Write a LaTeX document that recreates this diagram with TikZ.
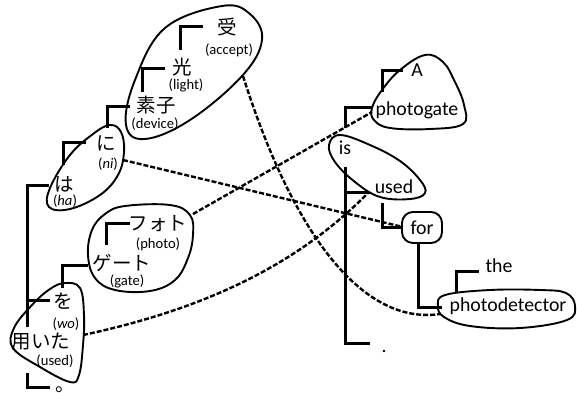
\documentclass[tikz,border=0pt]{standalone}
\usepackage{fontspec}
\setmainfont{Carlito}
\newfontfamily\jpfont{Noto Sans CJK JP}
\begin{document}
\begin{tikzpicture}[x=1pt,y=-1pt,
  en/.style={font=\fontsize{19.8}{21}\selectfont, inner sep=0pt},
  jp/.style={font=\fontsize{19.5}{21}\jpfont, inner sep=0pt},
  gl/.style={font=\fontsize{14.6}{16}\selectfont, inner sep=0pt},
  brk/.style={line width=3pt},
  blob/.style={line width=1.9pt},
  dsh/.style={line width=2.4pt, dash pattern=on 5pt off 2pt}]
\useasboundingbox (0,0) rectangle (577,392);

% ---------- blobs ----------
\draw[blob] plot[smooth cycle, tension=0.65] coordinates {(222,6) (165,28) (135,80) (126,125) (145,139) (190,120) (242,76) (262,40) (250,14)};
\draw[blob] plot[smooth cycle, tension=0.65] coordinates {(110,125) (121,132) (124,152) (118,175) (100,195) (70,209) (49,207) (50,188) (70,155) (93,134)};
\draw[blob] plot[smooth cycle, tension=0.65] coordinates {(125,206) (170,205) (190,215) (193,235) (188,258) (175,280) (150,291) (115,290) (95,278) (88,255) (92,230) (105,214)};
\draw[blob] plot[smooth cycle, tension=0.65] coordinates {(65,283) (80,288) (84,315) (83,345) (79,375) (70,382) (40,367) (13,348) (14,328) (32,305) (50,289)};
\draw[blob] plot[smooth cycle, tension=0.65] coordinates {(425,55) (443,62) (455,82) (464,105) (463,124) (430,129) (390,128) (374,120) (372,108) (382,90) (400,70)};
\draw[blob] plot[smooth cycle, tension=0.65] coordinates {(340,135) (370,145) (400,161) (420,180) (425,193) (410,199) (380,197) (355,182) (335,162) (329,145)};
\draw[blob] plot[smooth cycle, tension=0.65] coordinates {(445,295) (490,290) (540,290) (566,293) (575,306) (567,320) (520,328) (470,326) (444,317) (438,306)};

% ---------- connector end points on blobs ----------
\coordinate (b1r) at (243,76);
\coordinate (b8l) at (440,314);
\coordinate (b2r) at (123,160);
\coordinate (forl) at (403,227);
\coordinate (b3r) at (193,214);
\coordinate (b5l) at (372,112);
\coordinate (b4r) at (83,335);
\coordinate (b6l) at (368,193);

% ---------- Japanese words ----------
\node[jp] (ju) at (227,27) {受};
\node[gl] (jug) at (229,50) {(accept)};
\node[jp] (hikari) at (182,67) {光};
\node[gl] (hikarig) at (186,85) {(light)};
\node[jp] (soshi) at (156,105) {素子};
\node[gl] (soshig) at (155,124) {(device)};
\node[jp] (ni) at (106,143) {に};
\node[gl] (nig) at (108,164) {(\textit{ni})};
\node[jp] (ha) at (64,184) {は};
\node[gl] (hag) at (65,201) {(\textit{ha})};
\node[jp] (foto) at (158,224) {フォト};
\node[gl] (fotog) at (158,244) {(photo)};
\node[jp] (geto) at (122,263) {ゲート};
\node[gl] (getog) at (127,281) {(gate)};
\node[jp] (wo) at (63,301) {を};
\node[gl] (wog) at (66,324) {(\textit{wo})};
\node[jp] (mochiita) at (41,342) {用いた};
\node[gl] (mochiitag) at (55,361) {(used)};
\node[jp, anchor=base west] (maru) at (55,391) {。};

% ---------- English words ----------
\node[en] (a) at (417,70) {A};
\node[en] (photogate) at (417,110) {photogate};
\node[en] (is) at (345,148) {is};
\node[en] (used) at (394,187) {used};
\node[en, draw, line width=1.9pt, rounded corners=11pt, minimum width=40pt, minimum height=31pt] (for) at (422,227.5) {for};
\node[en] (the) at (499,266) {the};
\node[en] (photodetector) at (508,306) {photodetector};
\node[en, anchor=base] (period) at (384,352) {.};

% ---------- tree brackets (Japanese) ----------
\draw[brk] (203,26) -| (180,50);
\draw[brk] (165,68) -| (142,92);
\draw[brk] (130,106) -| (107,128);
\draw[brk] (86,142) -| (63,165);
\draw[brk] (49,185) -| (27,327);
\draw[brk] (27,300) -- (50,300);
\draw[brk] (27,373) |- (50,387);
\draw[brk] (88,265) -| (62,288);
\draw[brk] (130,223) -| (106,245);

% ---------- tree brackets (English) ----------
\draw[brk] (403,70) -| (382,92);
\draw[brk] (373,107) -| (345,128);
\draw[brk] (345,167) |- (370,343);
\draw[brk] (345,192) -- (370,192);
\draw[brk] (382,203) |- (for.west);
\draw[brk] (418,243) |- (442,307);
\draw[brk] (479,271) -| (456,293);

% ---------- alignment links ----------
\draw[dsh] (b1r) .. controls (295,240) and (365,325) .. (b8l);
\draw[dsh] (b2r) -- (forl);
\draw[dsh] (b3r) -- (b5l);
\draw[dsh] (b4r) .. controls (210,308) and (300,262) .. (b6l);
\end{tikzpicture}
\end{document}
